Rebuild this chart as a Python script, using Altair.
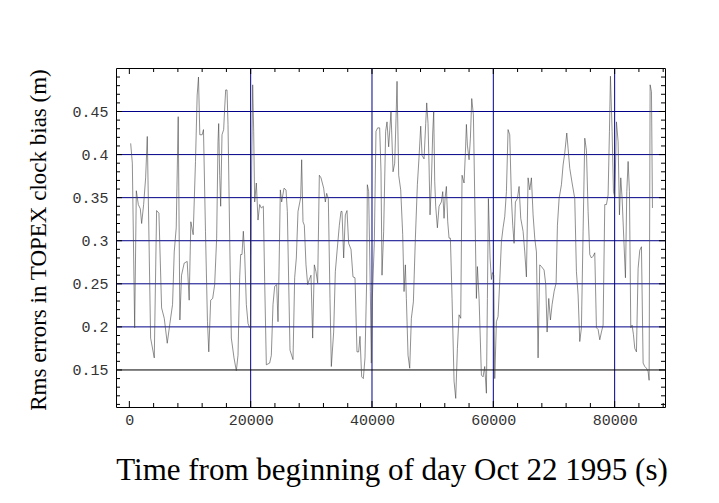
import altair as alt
import pandas as pd

# --- data ---
time_s = [219, 493, 877, 1151, 1480, 1808, 2028, 2356, 2685, 2959, 3507, 4110, 4494, 4877, 5316, 5754,
          6247, 6686, 7124, 7398, 7727, 8056, 8330, 8604, 9042, 9535, 9864, 10138, 10522, 10905, 11179,
          11398, 11618, 12001, 12220, 12549, 12878, 13097,
          13406, 13736, 14065, 14395, 14615, 14725, 14890, 15055, 15274, 15549, 15714, 15879, 16099,
          16263, 16593, 16813, 17253, 17637, 17912, 18187, 18351, 18571, 18791, 19011, 19286, 19560,
          19780, 20000, 20165, 20330, 20495, 20659, 20934, 21209, 21484, 21758, 22088, 22308, 22583,
          23132, 23407, 23682, 23956, 24286, 24506, 24671, 24891, 25110, 25495, 25825, 26045, 26264,
          26484, 26979, 27253, 27528, 27803, 28243,
          28406, 28625, 28845, 29120, 29395, 29669, 29944, 30219, 30494, 30768, 31043, 31318, 31593,
          32032, 32307, 32527, 32801, 33076, 33296, 33681, 33955, 34230, 34615, 34890, 35055, 35329,
          35604, 35879, 36154, 36539, 36868, 37198, 37527, 37802, 38022, 38297, 38571, 38846, 39121,
          39231, 39451, 39725, 39890, 40055, 40385, 40659, 40934, 41264, 41484, 41649, 41923, 42253,
          42473, 42748, 43132,
          43468, 43742, 43962, 44127, 44402, 44732, 45062, 45282, 45501, 45666, 45941, 46216, 46491,
          46821, 47151, 47480, 47755, 48030, 48250, 48580, 48855, 49020, 49239, 49404, 49569, 49789,
          50009, 50174, 50339, 50504, 50779, 51053, 51438, 51658, 51878, 52043, 52263, 52483, 52703,
          52922, 53197, 53527, 53802, 54077, 54352, 54626, 54846, 55176, 55396, 55561, 55726, 56001,
          56221, 56440, 56715, 57045, 57210, 57375, 57650, 58035,
          58310, 58584, 58859, 59024, 59189, 59464, 59684, 59849, 60069, 60234, 60508, 60783, 61058,
          61333, 61608, 61883, 62157, 62432, 62707, 62982, 63202, 63422, 63642, 63971, 64246, 64521,
          64906, 65181, 65456, 65731, 66005, 66280, 66555, 66830, 67105, 67380, 67654, 67929, 68369,
          68644, 68864, 69139, 69413, 69688, 70018, 70348, 70568, 70843, 71228, 71502, 71777, 72107,
          72327, 72602, 72987,
          73424, 73699, 73974, 74249, 74524, 74799, 75074, 75348, 75623, 75898, 76173, 76448, 76723,
          76997, 77272, 77547, 77822, 78097, 78372, 78647, 78921, 79141, 79306, 79581, 79801, 80021,
          80186, 80296, 80571, 80790, 81010, 81230, 81505, 81780, 82000, 82220, 82439, 82659, 82879,
          83099, 83319, 83594, 83868, 84143, 84418, 84693, 84968, 85243, 85518, 85683, 85848, 86068,
          86232]

rms_m = [0.413, 0.390, 0.199, 0.358, 0.342, 0.337, 0.320, 0.342, 0.373, 0.421, 0.187, 0.164, 0.335,
         0.332, 0.222, 0.210, 0.181, 0.204, 0.226, 0.287, 0.315, 0.444, 0.208, 0.260, 0.274, 0.276,
         0.231, 0.322, 0.307, 0.392, 0.469, 0.490, 0.423, 0.423, 0.429, 0.311, 0.206, 0.171,
         0.231, 0.233, 0.249, 0.303, 0.415, 0.436, 0.376, 0.340, 0.423, 0.429, 0.454, 0.475, 0.475,
         0.435, 0.280, 0.187, 0.164, 0.149, 0.167, 0.257, 0.284, 0.284, 0.311, 0.284, 0.226, 0.204,
         0.200, 0.198, 0.388, 0.481, 0.427, 0.345, 0.367, 0.324, 0.342, 0.338, 0.340, 0.253, 0.156,
         0.158, 0.167, 0.226, 0.247, 0.249, 0.206, 0.264, 0.359, 0.345, 0.361, 0.359, 0.334, 0.253,
         0.173, 0.162, 0.257, 0.280, 0.334, 0.350,
         0.394, 0.322, 0.318, 0.272, 0.249, 0.255, 0.260, 0.187, 0.272, 0.264, 0.251, 0.376, 0.373,
         0.361, 0.345, 0.355, 0.349, 0.233, 0.154, 0.194, 0.264, 0.287, 0.318, 0.334, 0.334, 0.280,
         0.330, 0.335, 0.297, 0.290, 0.258, 0.257, 0.171, 0.171, 0.189, 0.142, 0.140, 0.164, 0.253,
         0.365, 0.357, 0.241, 0.158, 0.233, 0.299, 0.427, 0.431, 0.431, 0.380, 0.260, 0.311, 0.427,
         0.438, 0.409, 0.450,
         0.380, 0.390, 0.442, 0.485, 0.376, 0.359, 0.307, 0.241, 0.272, 0.233, 0.167, 0.152, 0.210,
         0.229, 0.303, 0.365, 0.397, 0.433, 0.399, 0.395, 0.436, 0.460, 0.436, 0.388, 0.330, 0.367,
         0.425, 0.450, 0.369, 0.340, 0.315, 0.340, 0.345, 0.357, 0.326, 0.349, 0.363, 0.322, 0.303,
         0.303, 0.233, 0.137, 0.117, 0.175, 0.214, 0.210, 0.376, 0.367, 0.402, 0.435, 0.411, 0.394,
         0.419, 0.465, 0.446, 0.303, 0.233, 0.270, 0.233, 0.144,
         0.142, 0.154, 0.123, 0.233, 0.349, 0.280, 0.255, 0.263, 0.260, 0.140, 0.206, 0.212, 0.253,
         0.299, 0.315, 0.328, 0.357, 0.429, 0.423, 0.349, 0.318, 0.297, 0.345, 0.349, 0.363, 0.326,
         0.311, 0.287, 0.258, 0.373, 0.359, 0.373, 0.330, 0.303, 0.287, 0.164, 0.272, 0.270, 0.266,
         0.249, 0.194, 0.233, 0.208, 0.226, 0.241, 0.251, 0.318, 0.349, 0.365, 0.388, 0.402, 0.425,
         0.407, 0.384, 0.367,
         0.349, 0.264, 0.237, 0.183, 0.199, 0.311, 0.419, 0.405, 0.334, 0.284, 0.280, 0.282, 0.286,
         0.199, 0.197, 0.185, 0.194, 0.202, 0.342, 0.342, 0.353, 0.427, 0.491, 0.427, 0.357, 0.351,
         0.400, 0.438, 0.415, 0.330, 0.373, 0.349, 0.303, 0.257, 0.357, 0.392, 0.357, 0.199, 0.202,
         0.191, 0.175, 0.171, 0.268, 0.289, 0.293, 0.158, 0.154, 0.152, 0.148, 0.138, 0.481, 0.473,
         0.338]

x_tick_labels = [0, 20000, 40000, 60000, 80000]
y_tick_labels = [0.15, 0.2, 0.25, 0.3, 0.35, 0.4, 0.45]
x_grid_blue = [20000, 40000, 60000, 80000]
y_grid_blue = [0.2, 0.25, 0.3, 0.35, 0.4, 0.45]
y_grid_black = [0.15]
x_minor = [4000, 8000, 12000, 16000, 24000, 28000, 32000, 36000, 44000, 48000, 52000, 56000,
           64000, 68000, 72000, 76000, 84000, 88000]
y_minor = [0.11, 0.12, 0.13, 0.14, 0.16, 0.17, 0.18, 0.19, 0.21, 0.22, 0.23, 0.24, 0.26, 0.27,
           0.28, 0.29, 0.31, 0.32, 0.33, 0.34, 0.36, 0.37, 0.38, 0.39, 0.41, 0.42, 0.43, 0.44,
           0.46, 0.47, 0.48, 0.49]

W, H = 549, 339
NAVY = "#000088"
TICKFONT = "Liberation Mono"
TITLEFONT = "Liberation Serif"

xs = alt.Scale(domain=[-2200, 88300], nice=False, zero=False)
ys = alt.Scale(domain=[0.107, 0.5005], nice=False, zero=False)

df = pd.DataFrame({"t": time_s, "rms": rms_m})

x_axis = alt.Axis(values=x_tick_labels, format="d", ticks=False, domain=False, grid=False,
                  labelFont=TICKFONT, labelFontSize=15, labelColor="#333", labelPadding=5,
                  title="Time from beginning of day Oct 22 1995 (s)", titleFont=TITLEFONT,
                  titleFontSize=31, titleFontWeight="normal", titleColor="black",
                  titleBaseline="alphabetic", titleY=72, titleX=W / 2 + 1)
y_axis = alt.Axis(values=y_tick_labels, format="~g", ticks=False, domain=False, grid=False,
                  labelFont=TICKFONT, labelFontSize=15, labelColor="#333", labelPadding=8,
                  title="Rms errors in TOPEX clock bias (m)", titleFont=TITLEFONT,
                  titleFontSize=23, titleFontWeight="normal", titleColor="black",
                  titleBaseline="middle", titleX=-78, titleY=H / 2 + 2, titleAngle=270)


def X(field):
    return alt.X(field, scale=xs, axis=x_axis)


def Y(field):
    return alt.Y(field, scale=ys, axis=y_axis)


line = alt.Chart(df).mark_line(color="#444", strokeWidth=0.6).encode(
    x=X("t:Q"), y=Y("rms:Q"), order="t:Q")


def vrules(vals, color):
    return alt.Chart(pd.DataFrame({"t": vals})).mark_rule(color=color, strokeWidth=1).encode(
        x=X("t:Q"))


def hrules(vals, color):
    return alt.Chart(pd.DataFrame({"rms": vals})).mark_rule(color=color, strokeWidth=1).encode(
        y=Y("rms:Q"))


def xticks(vals, length):
    d = pd.DataFrame({"t": vals})
    b = alt.Chart(d).mark_rule(color="black", strokeWidth=1).encode(
        x=X("t:Q"), y=alt.value(H), y2=alt.value(H - length))
    t = alt.Chart(d).mark_rule(color="black", strokeWidth=1).encode(
        x=X("t:Q"), y=alt.value(0), y2=alt.value(length))
    return [b, t]


def yticks(vals, length):
    d = pd.DataFrame({"rms": vals})
    l = alt.Chart(d).mark_rule(color="black", strokeWidth=1).encode(
        y=Y("rms:Q"), x=alt.value(0), x2=alt.value(length))
    r = alt.Chart(d).mark_rule(color="black", strokeWidth=1).encode(
        y=Y("rms:Q"), x=alt.value(W), x2=alt.value(W - length))
    return [l, r]


layers = [vrules(x_grid_blue, NAVY), hrules(y_grid_blue, NAVY), hrules(y_grid_black, "black"), line]
layers += xticks(x_tick_labels, 6) + xticks(x_minor, 4)
layers += yticks(y_tick_labels, 6) + yticks(y_minor, 4)

chart = alt.layer(*layers).properties(
    width=W, height=H,
    autosize=alt.AutoSizeParams(type="none"),
    padding={"left": 108, "top": 60, "right": 40, "bottom": 90},
    background="white",
).configure_view(stroke="black", strokeWidth=1)

chart.save("out.html", embed_options={"renderer": "svg", "actions": False})
